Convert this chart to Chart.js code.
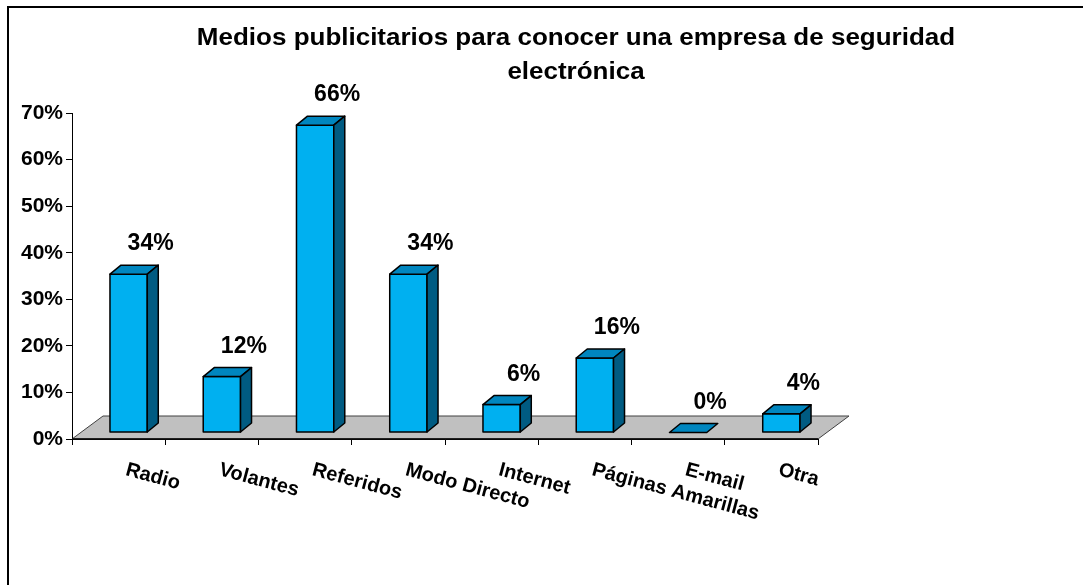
<!DOCTYPE html>
<html>
<head>
<meta charset="utf-8">
<script src="https://cdn.jsdelivr.net/npm/chart.js@4.4.1/dist/chart.umd.min.js"></script>
<style>
  html, body { margin: 0; padding: 0; background: #fff; }
  #marco { position: relative; width: 1083px; height: 585px; }
</style>
</head>
<body>
<div id="marco"><canvas id="grafico_medios"></canvas></div>
<script>
const titulo = ['Medios publicitarios para conocer una empresa de seguridad', 'electrónica']
const medios = ['Radio', 'Volantes', 'Referidos', 'Modo Directo', 'Internet', 'Páginas Amarillas', 'E-mail', 'Otra']
const porcentajes = [34, 12, 66, 34, 6, 16, 0, 4]
const ticksY = [0, 10, 20, 30, 40, 50, 60, 70]

// colores de las caras
const colorFrente = '#00B0F0'
const colorTapa = '#0086BF'
const colorLado = '#005B82'
const colorPiso = '#C0C0C0'
const fuente = "'Liberation Sans', Arial, sans-serif"

// desplazamientos de la perspectiva
const prof = { dx: 11, dy: -9 }     // profundidad de cada barra
const piso = { dx: 31, dy: -23 }    // profundidad del piso
const corre = { dx: 10, dy: -6.5 }  // la barra se apoya dentro del piso

function poligono(ctx, puntos, relleno) {
    ctx.beginPath()
    ctx.moveTo(puntos[0][0], puntos[0][1])
    for (let i = 1; i < puntos.length; i++) ctx.lineTo(puntos[i][0], puntos[i][1])
    ctx.closePath()
    ctx.fillStyle = relleno
    ctx.fill()
    ctx.stroke()
}

/*********************************************
*   PLUGIN PARA LAS BARRAS EN 3D
**********************************************/
const barras3D = {
    id: 'barras3D',
    beforeDraw(chart) {
        // marco del grafico
        const ctx = chart.ctx
        ctx.save()
        ctx.strokeStyle = '#000'
        ctx.lineWidth = 2
        ctx.beginPath()
        ctx.moveTo(8, chart.height + 5)
        ctx.lineTo(8, 7)
        ctx.lineTo(chart.width + 5, 7)
        ctx.stroke()
        ctx.restore()
    },
    beforeDatasetsDraw(chart) {
        const { ctx, chartArea: a } = chart
        ctx.save()
        ctx.strokeStyle = '#404040'
        ctx.lineWidth = 1
        poligono(ctx, [
            [a.left, a.bottom],
            [a.left + piso.dx, a.bottom + piso.dy],
            [a.right + piso.dx, a.bottom + piso.dy],
            [a.right, a.bottom]
        ], colorPiso)
        // borde del frente (eje x)
        ctx.strokeStyle = '#000'
        ctx.lineWidth = 1.5
        ctx.beginPath()
        ctx.moveTo(a.left, a.bottom)
        ctx.lineTo(a.right, a.bottom)
        ctx.stroke()
        ctx.restore()
    },
    afterDatasetsDraw(chart) {
        const ctx = chart.ctx
        const meta = chart.getDatasetMeta(0)
        ctx.save()
        ctx.lineWidth = 1.5
        ctx.strokeStyle = '#000'
        ctx.lineJoin = 'round'
        meta.data.forEach((bar, i) => {
            const x0 = bar.x - bar.width / 2 + corre.dx
            const x1 = bar.x + bar.width / 2 + corre.dx
            const y0 = bar.y + corre.dy
            const y1 = bar.base + corre.dy
            const alto = y1 - y0 > 0.5

            if (alto) poligono(ctx, [[x0, y0], [x1, y0], [x1, y1], [x0, y1]], colorFrente)
            poligono(ctx, [[x0, y0], [x0 + prof.dx, y0 + prof.dy], [x1 + prof.dx, y0 + prof.dy], [x1, y0]], colorTapa)
            if (alto) poligono(ctx, [[x1, y0], [x1 + prof.dx, y0 + prof.dy], [x1 + prof.dx, y1 + prof.dy], [x1, y1]], colorLado)

            // etiqueta del valor
            ctx.fillStyle = '#000'
            ctx.font = 'bold 23px ' + fuente
            ctx.textAlign = 'center'
            ctx.textBaseline = 'alphabetic'
            ctx.fillText(porcentajes[i] + '%', (x0 + x1) / 2 + 22, y0 - 24)
        })
        ctx.restore()
    },
    afterDraw(chart) {
        const ctx = chart.ctx
        const escalaX = chart.scales.x
        ctx.save()
        ctx.fillStyle = '#000'

        // titulo en dos lineas, un poco ensanchado
        ctx.font = 'bold 23px ' + fuente
        ctx.textAlign = 'center'
        ctx.textBaseline = 'alphabetic'
        titulo.forEach((linea, i) => {
            ctx.save()
            ctx.translate(576, 45 + i * 34)
            ctx.scale(1.13, 1)
            ctx.fillText(linea, 0, 0)
            ctx.restore()
        })

        // nombres de las categorias, inclinados
        ctx.font = 'bold 20px ' + fuente
        ctx.textAlign = 'left'
        medios.forEach((nombre, i) => {
            ctx.save()
            ctx.translate(escalaX.getPixelForValue(i) + 6, chart.chartArea.bottom + 36)
            ctx.rotate(15 * Math.PI / 180)
            ctx.fillText(nombre, 0, 0)
            ctx.restore()
        })
        ctx.restore()
    }
}

const ctx = document.getElementById('grafico_medios').getContext('2d')

const data = {
    labels: medios,
    datasets: [{
        label: 'Medios publicitarios',
        data: porcentajes,
        backgroundColor: 'rgba(0,0,0,0)',
        borderWidth: 0,
        barPercentage: 0.4,
        categoryPercentage: 1
    }]
}

const options = {
    responsive: true,
    maintainAspectRatio: false,
    animation: false,
    layout: { padding: { top: 113, right: 265, bottom: 0, left: 0 } },
    scales: {
        x: {
            offset: true,
            grid: { display: true, drawOnChartArea: false, drawTicks: true, tickLength: 6, color: '#000' },
            border: { display: true, color: '#000' },
            ticks: { display: false },
            afterFit: s => { s.height = 146 }
        },
        y: {
            min: 0,
            max: 70,
            afterBuildTicks: s => { s.ticks = ticksY.map(v => ({ value: v })) },
            grid: { display: true, drawOnChartArea: false, drawTicks: true, tickLength: 6, color: '#000' },
            border: { display: true, color: '#000' },
            ticks: {
                padding: 3,
                color: '#000',
                font: { family: fuente, size: 21, weight: 'bold' },
                callback: v => v + '%'
            },
            afterFit: s => { s.width = 72 }
        }
    },
    plugins: {
        legend: { display: false },
        tooltip: { enabled: false }
    }
}

new Chart(ctx, { type: 'bar', data, options, plugins: [barras3D] })
</script>
</body>
</html>
